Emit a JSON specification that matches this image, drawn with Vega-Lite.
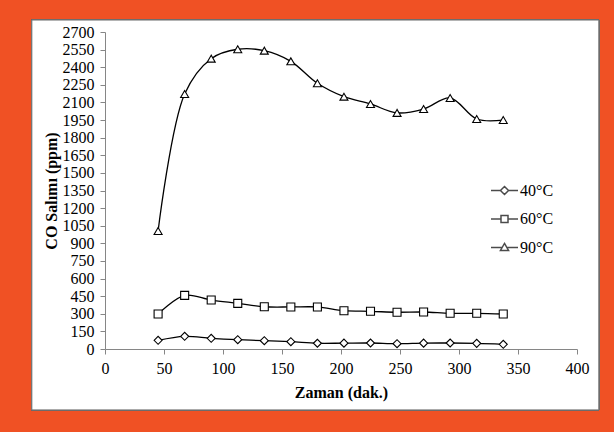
{
  "$schema": "https://vega.github.io/schema/vega-lite/v6.json",
  "width": 472,
  "height": 317,
  "autosize": "none",
  "padding": {"left": 105, "top": 32, "right": 37, "bottom": 83},
  "background": "#F05124",
  "config": {
    "font": "Liberation Serif",
    "view": {"stroke": null},
    "axis": {
      "zindex": 1,
      "labelFont": "Liberation Serif",
      "titleFont": "Liberation Serif",
      "labelFontSize": 16,
      "titleFontSize": 16,
      "titleFontWeight": "bold",
      "labelColor": "#000000",
      "titleColor": "#000000",
      "domainColor": "#868686",
      "tickColor": "#868686",
      "tickSize": 5,
      "labelOverlap": false,
      "labelFlush": false,
      "grid": false
    }
  },
  "data": {
    "values": [
      {"t": 45, "series": "40°C", "co": 74},
      {"t": 67.5, "series": "40°C", "co": 108},
      {"t": 90, "series": "40°C", "co": 91},
      {"t": 112.5, "series": "40°C", "co": 79},
      {"t": 135, "series": "40°C", "co": 71},
      {"t": 157.5, "series": "40°C", "co": 62},
      {"t": 180, "series": "40°C", "co": 49},
      {"t": 202.5, "series": "40°C", "co": 50},
      {"t": 225, "series": "40°C", "co": 51},
      {"t": 247.5, "series": "40°C", "co": 45},
      {"t": 270, "series": "40°C", "co": 50},
      {"t": 292.5, "series": "40°C", "co": 51},
      {"t": 315, "series": "40°C", "co": 48},
      {"t": 337.5, "series": "40°C", "co": 40},
      {"t": 45, "series": "60°C", "co": 298},
      {"t": 67.5, "series": "60°C", "co": 457},
      {"t": 90, "series": "60°C", "co": 417},
      {"t": 112.5, "series": "60°C", "co": 389},
      {"t": 135, "series": "60°C", "co": 360},
      {"t": 157.5, "series": "60°C", "co": 358},
      {"t": 180, "series": "60°C", "co": 358},
      {"t": 202.5, "series": "60°C", "co": 326},
      {"t": 225, "series": "60°C", "co": 321},
      {"t": 247.5, "series": "60°C", "co": 313},
      {"t": 270, "series": "60°C", "co": 315},
      {"t": 292.5, "series": "60°C", "co": 304},
      {"t": 315, "series": "60°C", "co": 304},
      {"t": 337.5, "series": "60°C", "co": 298},
      {"t": 45, "series": "90°C", "co": 1005},
      {"t": 67.5, "series": "90°C", "co": 2172},
      {"t": 90, "series": "90°C", "co": 2473},
      {"t": 112.5, "series": "90°C", "co": 2553},
      {"t": 135, "series": "90°C", "co": 2541},
      {"t": 157.5, "series": "90°C", "co": 2450},
      {"t": 180, "series": "90°C", "co": 2263},
      {"t": 202.5, "series": "90°C", "co": 2149},
      {"t": 225, "series": "90°C", "co": 2087},
      {"t": 247.5, "series": "90°C", "co": 2011},
      {"t": 270, "series": "90°C", "co": 2044},
      {"t": 292.5, "series": "90°C", "co": 2138},
      {"t": 315, "series": "90°C", "co": 1959},
      {"t": 337.5, "series": "90°C", "co": 1950}
    ]
  },
  "layer": [
    {
      "mark": {"type": "rect", "fill": "white", "stroke": "#6e6e6e", "strokeWidth": 1, "clip": false},
      "encoding": {
        "x": {
          "datum": -62, "type": "quantitative",
          "scale": {"domain": [0, 400], "nice": false},
          "axis": {"zindex": 1, "values": [0, 50, 100, 150, 200, 250, 300, 350, 400], "format": "d", "labelFontSize": 16, "titleFontSize": 16, "title": "Zaman (dak.)", "labelPadding": 6, "titlePadding": 8, "labelOverlap": false}
        },
        "x2": {"datum": 418.5},
        "y": {
          "datum": 2802, "type": "quantitative",
          "scale": {"domain": [0, 2700], "nice": false},
          "axis": {"zindex": 1, "values": [0, 150, 300, 450, 600, 750, 900, 1050, 1200, 1350, 1500, 1650, 1800, 1950, 2100, 2250, 2400, 2550, 2700], "format": "d", "labelFontSize": 16, "titleFontSize": 16, "title": "CO Salımı (ppm)", "labelPadding": 6, "titlePadding": 3, "labelOverlap": false}
        },
        "y2": {"datum": -519}
      }
    },
    {
      "mark": {"type": "line", "interpolate": "catmull-rom", "color": "black", "strokeWidth": 1.3},
      "encoding": {
        "x": {
          "field": "t", "type": "quantitative",
          "scale": {"domain": [0, 400], "nice": false},
          "axis": {"zindex": 1, "values": [0, 50, 100, 150, 200, 250, 300, 350, 400], "format": "d", "labelFontSize": 16, "titleFontSize": 16, "title": "Zaman (dak.)", "labelPadding": 6, "titlePadding": 8, "labelOverlap": false}
        },
        "y": {
          "field": "co", "type": "quantitative",
          "scale": {"domain": [0, 2700], "nice": false},
          "axis": {"zindex": 1, "values": [0, 150, 300, 450, 600, 750, 900, 1050, 1200, 1350, 1500, 1650, 1800, 1950, 2100, 2250, 2400, 2550, 2700], "format": "d", "labelFontSize": 16, "titleFontSize": 16, "title": "CO Salımı (ppm)", "labelPadding": 6, "titlePadding": 3, "labelOverlap": false}
        },
        "detail": {"field": "series"}
      }
    },
    {
      "mark": {"type": "point", "filled": true, "fill": "white", "stroke": "black", "strokeWidth": 1.1, "size": 64, "opacity": 1},
      "encoding": {
        "x": {
          "field": "t", "type": "quantitative",
          "scale": {"domain": [0, 400], "nice": false},
          "axis": {"zindex": 1, "values": [0, 50, 100, 150, 200, 250, 300, 350, 400], "format": "d", "labelFontSize": 16, "titleFontSize": 16, "title": "Zaman (dak.)", "labelPadding": 6, "titlePadding": 8, "labelOverlap": false}
        },
        "y": {
          "field": "co", "type": "quantitative",
          "scale": {"domain": [0, 2700], "nice": false},
          "axis": {"zindex": 1, "values": [0, 150, 300, 450, 600, 750, 900, 1050, 1200, 1350, 1500, 1650, 1800, 1950, 2100, 2250, 2400, 2550, 2700], "format": "d", "labelFontSize": 16, "titleFontSize": 16, "title": "CO Salımı (ppm)", "labelPadding": 6, "titlePadding": 3, "labelOverlap": false}
        },
        "shape": {
          "field": "series", "type": "nominal",
          "scale": {"domain": ["40°C", "60°C", "90°C"], "range": ["diamond", "square", "triangle-up"]},
          "legend": null
        }
      }
    },
    {
      "mark": {"type": "point", "filled": true, "fill": "white", "stroke": "black", "strokeWidth": 1, "size": 0},
      "encoding": {
        "x": {
          "field": "t", "type": "quantitative",
          "scale": {"domain": [0, 400], "nice": false},
          "axis": {"zindex": 1, "values": [0, 50, 100, 150, 200, 250, 300, 350, 400], "format": "d", "labelFontSize": 16, "titleFontSize": 16, "title": "Zaman (dak.)", "labelPadding": 6, "titlePadding": 8, "labelOverlap": false}
        },
        "y": {
          "field": "co", "type": "quantitative",
          "scale": {"domain": [0, 2700], "nice": false},
          "axis": {"zindex": 1, "values": [0, 150, 300, 450, 600, 750, 900, 1050, 1200, 1350, 1500, 1650, 1800, 1950, 2100, 2250, 2400, 2550, 2700], "format": "d", "labelFontSize": 16, "titleFontSize": 16, "title": "CO Salımı (ppm)", "labelPadding": 6, "titlePadding": 3, "labelOverlap": false}
        },
        "shape": {
          "field": "series", "type": "nominal",
          "scale": {
            "domain": ["40°C", "60°C", "90°C"],
            "range": [
              "M-1,0H-0.3M0.3,0H1M0,-0.3L0.3,0L0,0.3L-0.3,0Z",
              "M-1,0H-0.26M0.26,0H1M-0.26,-0.26H0.26V0.26H-0.26Z",
              "M-1,0H-0.17M0.17,0H1M0,-0.3L0.3,0.22L-0.3,0.22Z"
            ]
          },
          "legend": {
            "title": null,
            "orient": "none",
            "legendX": 385,
            "legendY": 144,
            "padding": 0,
            "symbolSize": 729,
            "labelFont": "Liberation Serif",
            "labelFontSize": 16,
            "labelColor": "black",
            "labelOffset": 1,
            "rowPadding": 5.5,
            "zindex": 1,
            "encode": {
              "symbols": {
                "update": {
                  "size": {"value": 729},
                  "fill": {"value": "white"},
                  "stroke": {"value": "black"},
                  "strokeWidth": {"value": 1},
                  "opacity": {"value": 1}
                }
              }
            }
          }
        }
      }
    }
  ],
  "resolve": {"scale": {"shape": "independent"}}
}
